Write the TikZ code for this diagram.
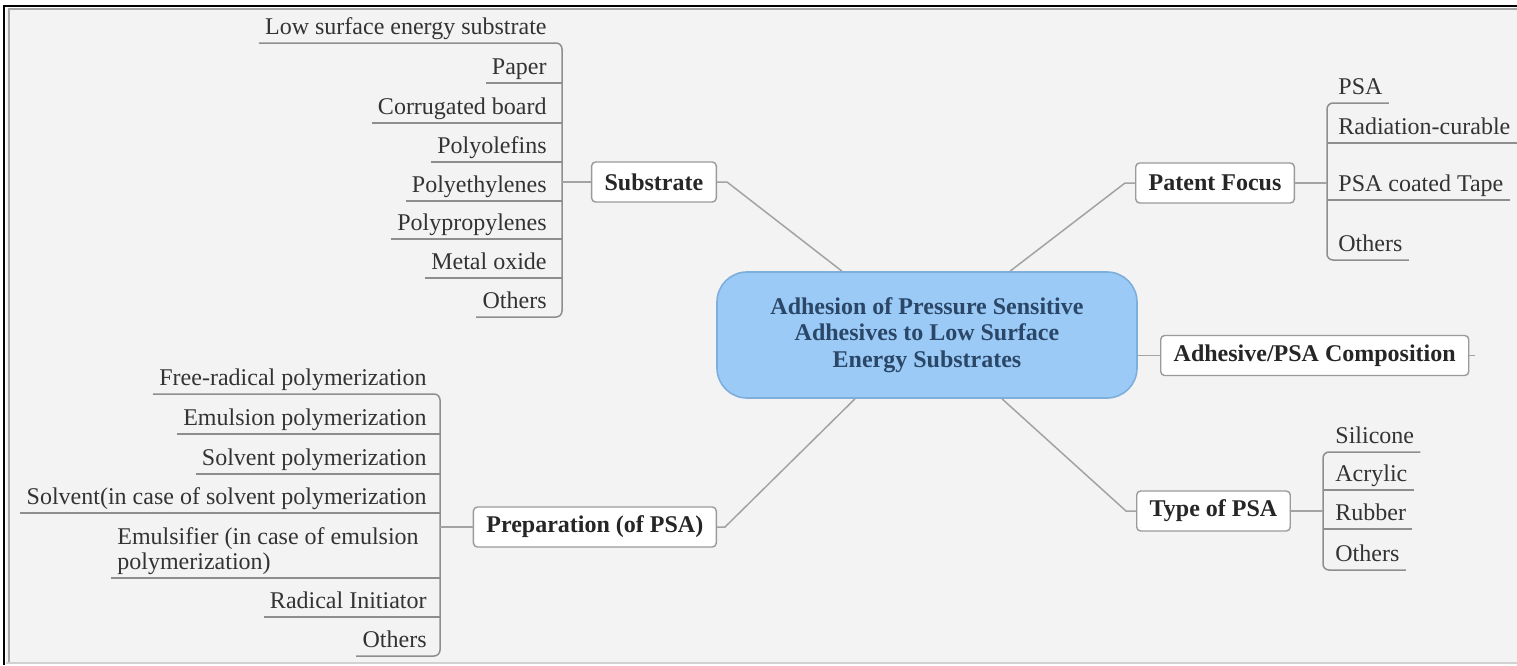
\documentclass[tikz,border=0pt]{standalone}
\usepackage{fontspec}
\setmainfont{Liberation Serif}
\usetikzlibrary{calc}
\definecolor{bg}{HTML}{F3F3F3}
\definecolor{lin}{HTML}{A3A3A3}
\definecolor{brk}{HTML}{8E8E8E}
\definecolor{txt}{HTML}{333333}
\definecolor{boxd}{HTML}{9A9A9A}
\definecolor{cfill}{HTML}{9CCAF6}
\definecolor{cdraw}{HTML}{7DAEDC}
\definecolor{ctext}{HTML}{2A4768}
\begin{document}
\begin{tikzpicture}[x=0.5pt,y=-0.5pt,
  every node/.style={font=\fontsize{12}{12.5}\selectfont},
  leafl/.style={anchor=south east, inner xsep=3pt, inner ysep=0pt, text height=8.5pt, text depth=4pt, text=txt},
  leafr/.style={leafl, anchor=south west},
  topic/.style={draw=boxd, fill=white, rounded corners=2pt, line width=0.7pt, inner xsep=6.5pt, minimum height=20pt, font=\fontsize{12}{12.5}\selectfont\bfseries, text=black!85},
  conn/.style={draw=lin, line width=0.75pt},
  ul/.style={draw=brk, line width=0.75pt, rounded corners=3pt}]
\useasboundingbox (0,0) rectangle (1517,665);
\fill[white] (0,0) rectangle (1517,665);
\fill[bg] (6,8) rectangle (1517,663);
\draw[black!35, line width=1pt] (9,663) -- (9,9) -- (1517,9);
\draw[black!18, line width=0.8pt] (6,663) -- (1517,663);
\draw[black, line width=1.25pt] (4,665) -- (4,6) -- (1517,6);

% central topic
\node[draw=cdraw, fill=cfill, rounded corners=15pt, line width=0.8pt, minimum width=210pt, minimum height=63pt, align=center, text=ctext, font=\fontsize{12}{13.25}\selectfont\bfseries] (c) at (927,335) {Adhesion of Pressure Sensitive\\Adhesives to Low Surface\\Energy Substrates};

% main topics
\node[topic, anchor=east] (sub) at (717,182) {Substrate};
\node[topic, anchor=west] (pf) at (1135,183) {Patent Focus};
\node[topic, anchor=west] (ad) at (1160,355.5) {Adhesive/PSA Composition};
\node[topic, anchor=west] (tp) at (1136,511) {Type of PSA};
\node[topic, anchor=east] (prep) at (717,527) {Preparation (of PSA)};

% junctions
\coordinate (js) at (562,182);
\coordinate (jp) at (1327,183);
\coordinate (jt) at (1323,511);
\coordinate (jr) at (440,527);

% substrate leaves
\node[leafl] (s1) at (553,43) {Low surface energy substrate};
\node[leafl] (s2) at (553,83) {Paper};
\node[leafl] (s3) at (553,123) {Corrugated board};
\node[leafl] (s4) at (553,162) {Polyolefins};
\node[leafl] (s5) at (553,201) {Polyethylenes};
\node[leafl] (s6) at (553,239) {Polypropylenes};
\node[leafl] (s7) at (553,278) {Metal oxide};
\node[leafl] (s8) at (553,317) {Others};

% patent focus leaves
\node[leafr] (p1) at (1332,103) {PSA};
\node[leafr] (p2) at (1332,143) {Radiation-curable};
\node[leafr] (p3) at (1332,200) {PSA coated Tape};
\node[leafr] (p4) at (1332,260) {Others};

% type leaves
\node[leafr] (t1) at (1329,452) {Silicone};
\node[leafr] (t2) at (1329,490) {Acrylic};
\node[leafr] (t3) at (1329,529) {Rubber};
\node[leafr] (t4) at (1329,570) {Others};

% preparation leaves
\node[leafl] (r1) at (433,394) {Free-radical polymerization};
\node[leafl] (r2) at (433,434) {Emulsion polymerization};
\node[leafl] (r3) at (433,474) {Solvent polymerization};
\node[leafl] (r4) at (433,513) {Solvent(in case of solvent polymerization};
\node[leafr] (r5) at (111,578) {\begin{tabular}[b]{@{}l@{}}Emulsifier (in case of emulsion\\polymerization)\end{tabular}};
\node[leafl] (r6) at (433,617) {Radical Initiator};
\node[leafl] (r7) at (433,656) {Others};

% brackets and underlines
\draw[ul] (s1.south west) -- (s1.south -| js) -- (s8.south -| js) -- (s8.south west);
\foreach \n in {s2,s3,s4,s5,s6,s7} \draw[ul] (\n.south west) -- (\n.south -| js);
\draw[ul] (p1.south east) -- (p1.south -| jp) -- (p4.south -| jp) -- (p4.south east);
\foreach \n in {p2,p3} \draw[ul] (\n.south east) -- (\n.south -| jp);
\draw[ul] (t1.south east) -- (t1.south -| jt) -- (t4.south -| jt) -- (t4.south east);
\foreach \n in {t2,t3} \draw[ul] (\n.south east) -- (\n.south -| jt);
\draw[ul] (r1.south west) -- (r1.south -| jr) -- (r7.south -| jr) -- (r7.south west);
\draw[ul] (r5.south west) -- (r5.south -| jr);
\foreach \n in {r2,r3,r4,r6} \draw[ul] (\n.south west) -- (\n.south -| jr);

% topic to bracket
\draw[conn] (sub.west) -- (js);
\draw[conn] (pf.east) -- (jp);
\draw[conn] (tp.east) -- (jt);
\draw[conn] (prep.west) -- (jr);

% central connectors
\draw[conn] (sub.east) -- ++(10,0) -- ($(c.north)+(-85,0)$);
\draw[conn] ($(c.north)+(83,0)$) -- ($(pf.west)+(-10,0)$) -- (pf.west);
\draw[conn] (prep.east) -- ++(8,0) -- ($(c.south)+(-72,0)$);
\draw[conn] ($(c.south)+(75,0)$) -- ($(tp.west)+(-10,0)$) -- (tp.west);
\draw[conn] (ad.west) -- (ad.west -| c.east);
\draw[conn] (ad.east) -- ++(6,0);
\end{tikzpicture}
\end{document}
